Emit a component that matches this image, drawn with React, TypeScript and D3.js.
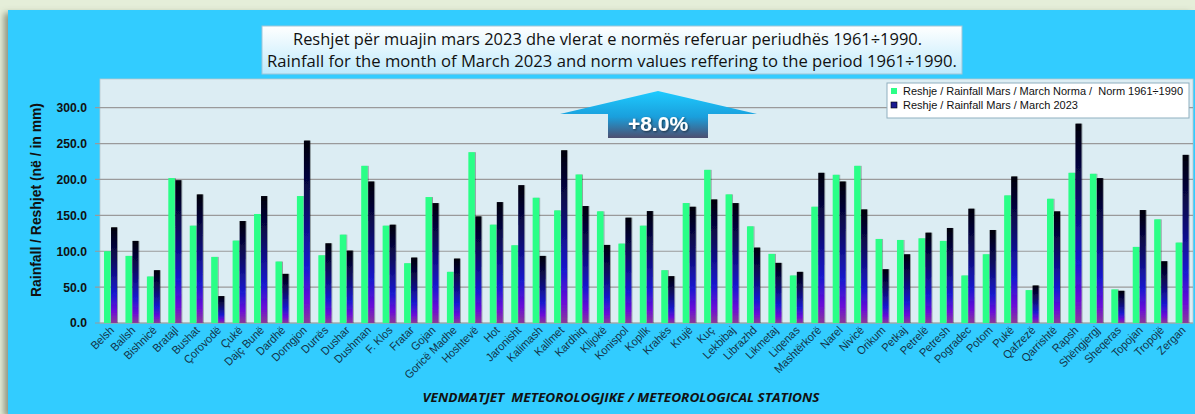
import React from "react";
import * as d3 from "d3";

const stations = ["Belsh","Ballsh","Bishnicë","Bratajl","Bushat","Çorovodë","Çukë","Dajç Bunë","Dardhë","Dorngjon","Durrës","Dushar","Dushman","F. Klos","Fratar","Gojan","Goricë Madhe","Hoshtevë","Hot","Jaronisht","Kalimash","Kallmet","Kardhiq","Klljokë","Konispol","Kopllk","Krahës","Krujë","Kuç","Lekbibaj","Librazhd","Likmetaj","Liqenas","Mashtërkorë","Narel","Nivicë","Orikum","Petkaj","Petrelë","Petresh","Pogradec","Potom","Pukë","Qafzezë","Qarrishtë","Rapsh","Shëngjergj","Sheqeras","Topojan","Tropojë","Zergan"];

const norm = [100,93.5,64.8,201.9,135.6,92.1,114.8,151.9,85.6,176.9,94.4,123.1,219,135.6,83.3,175.5,71.3,238,137,108.3,174.5,156.9,206.9,155.6,110.6,135.6,73.6,167.1,213.4,179.2,134.7,96.3,66.2,162,206.5,219,117.1,115.7,118,114.4,66.2,95.8,177.8,45.8,173.1,209.3,207.9,46.8,106,144.4,112];

const march2023 = [133.3,114.4,73.6,199,179.2,37.5,142.1,176.9,68.5,254.2,111.1,100.9,197.2,137,91.2,167.1,89.8,148.6,168.5,192.1,93.5,240.7,163,108.8,146.8,156,65.3,162,172.2,167.1,105.1,83.8,71.3,209.3,197.2,158.3,75,95.8,125.9,132.4,159.3,129.6,204.2,52.3,155.6,277.8,201.9,44.9,157.4,86.1,234.3];

const yTicks = [0,50,100,150,200,250,300];

const titleLines = [
  "Reshjet për muajin mars 2023 dhe vlerat e normës referuar periudhës 1961÷1990.",
  "Rainfall for the month of March 2023 and norm values reffering to the period 1961÷1990.",
];
const legendLabels = [
  "Reshje / Rainfall Mars / March Norma /  Norm 1961÷1990",
  "Reshje / Rainfall Mars / March 2023",
];
const changeLabel = "+8.0%";
const yTitle = "Rainfall / Reshjet (në / in mm)";
const xTitle = "VENDMATJET  METEOROLOGJIKE / METEOROLOGICAL STATIONS";

const W = 1195, H = 414;
const plot = { left: 100, right: 1193, top: 79, bottom: 323 };

export default function App() {
  const x = d3.scaleBand<string>().domain(stations).range([plot.left, plot.right]).padding(0);
  const y = d3.scaleLinear().domain([0, 300]).range([plot.bottom, 107.7]);
  const bw = 6.5;
  const sans = "'Liberation Sans', Arial, sans-serif";
  const titleFont = "'Open Sans', 'Noto Sans', sans-serif";

  const ax = 658;
  const arrowPath = d3.path();
  arrowPath.moveTo(ax, 91);
  arrowPath.lineTo(757, 114);
  arrowPath.lineTo(708, 114);
  arrowPath.lineTo(708, 138);
  arrowPath.lineTo(608, 138);
  arrowPath.lineTo(608, 114);
  arrowPath.lineTo(560, 114);
  arrowPath.closePath();

  const titleGeom = [
    { cx: 607.5, len: 629 },
    { cx: 612, len: 690 },
  ];
  const legendLens = [280, 175];

  return (
    <div style={{ position: "absolute", left: 0, top: 0 }}>
      <svg width={W} height={H} style={{ display: "block" }}>
        <defs>
          <linearGradient id="g2023" x1="0" y1="0" x2="0" y2="1">
            <stop offset="0" stopColor="#000008" />
            <stop offset="0.35" stopColor="#0a0a60" />
            <stop offset="0.7" stopColor="#1a1ad0" />
            <stop offset="0.88" stopColor="#6a0cd8" />
            <stop offset="1" stopColor="#8a3a9a" />
          </linearGradient>
          <linearGradient id="gTitle" x1="0" y1="0" x2="0" y2="1">
            <stop offset="0" stopColor="#ffffff" />
            <stop offset="1" stopColor="#bfeafc" />
          </linearGradient>
          <linearGradient id="gArrow" x1="0" y1="0" x2="0" y2="1">
            <stop offset="0" stopColor="#1ecbff" />
            <stop offset="0.55" stopColor="#1a9fdc" />
            <stop offset="1" stopColor="#4d4f70" />
          </linearGradient>
          <filter id="panelShadow" x="-5%" y="-5%" width="110%" height="110%">
            <feDropShadow dx="-4" dy="3" stdDeviation="3" floodColor="#6b6e5a" floodOpacity="0.7" />
          </filter>
          <filter id="txtShadow" x="-20%" y="-20%" width="140%" height="140%">
            <feDropShadow dx="1" dy="1" stdDeviation="1" floodColor="#000" floodOpacity="0.6" />
          </filter>
          <filter id="barShadow" x="-50%" y="-5%" width="200%" height="110%">
            <feDropShadow dx="1" dy="0" stdDeviation="0.6" floodColor="#000" floodOpacity="0.35" />
          </filter>
        </defs>

        <rect x={0} y={0} width={W} height={H} fill="#e5eed9" />
        <rect x={8} y={10} width={W - 8} height={H - 10} fill="#33ccff" filter="url(#panelShadow)" />

        {/* title */}
        <rect x={262} y={26} width={700} height={48} fill="url(#gTitle)" stroke="#9fc6d8" strokeWidth={1} />
        {titleLines.map((t, i) => (
          <text key={i} x={titleGeom[i].cx} y={45 + i * 22} textAnchor="middle" fontFamily={titleFont} fontSize={16}
            fill="#111" textLength={titleGeom[i].len} lengthAdjust="spacingAndGlyphs">
            {t}
          </text>
        ))}

        {/* plot area */}
        <rect x={plot.left} y={plot.top} width={plot.right - plot.left} height={plot.bottom - plot.top} fill="#dcedf3" stroke="#b8c8cc" strokeWidth={0.8} />
        {yTicks.map((t) => (
          <g key={t}>
            <line x1={95} x2={plot.right} y1={y(t)} y2={y(t)} stroke="#9a9a9a" strokeWidth={1.2} />
            <text x={87} y={y(t) + 4.5} textAnchor="end" fontFamily={sans} fontWeight="bold" fontSize={13.5} fill="#111"
              transform={`translate(${87 * 0.1},0) scale(0.9,1)`}>
              {t.toFixed(1)}
            </text>
          </g>
        ))}

        {/* bars */}
        {stations.map((s, i) => {
          const cx = (x(s) as number) + x.bandwidth() / 2;
          return (
            <g key={s}>
              <rect x={cx - bw - 0.2} y={y(norm[i])} width={bw} height={plot.bottom - y(norm[i])} fill="#2bff87" filter="url(#barShadow)" />
              <rect x={cx + 0.3} y={y(march2023[i])} width={bw - 0.5} height={plot.bottom - y(march2023[i])} fill="url(#g2023)" filter="url(#barShadow)" />
            </g>
          );
        })}

        {/* x labels */}
        {stations.map((s) => {
          const cx = (x(s) as number) + x.bandwidth() / 2;
          return (
            <text key={s} transform={`translate(${cx + 4},${331}) rotate(-45) scale(0.95,1)`} textAnchor="end" fontFamily={sans} fontSize={11.5} fill="#12344a">
              {s}
            </text>
          );
        })}

        {/* axis titles */}
        <text transform={`translate(41,${200}) rotate(-90)`} textAnchor="middle" fontFamily={sans} fontWeight="bold" fontSize={15}
          fill="#111" textLength={194} lengthAdjust="spacingAndGlyphs">
          {yTitle}
        </text>
        <text x={621} y={402} textAnchor="middle" fontFamily={titleFont} fontWeight="bold" fontStyle="italic" fontSize={13}
          fill="#111" textLength={397} lengthAdjust="spacingAndGlyphs" style={{ whiteSpace: "pre" }}>
          {xTitle}
        </text>

        {/* arrow */}
        <path d={arrowPath.toString()} fill="url(#gArrow)" />
        <text x={ax} y={131} textAnchor="middle" fontFamily={sans} fontWeight="bold" fontSize={21} fill="#fff" filter="url(#txtShadow)">
          {changeLabel}
        </text>

        {/* legend */}
        <rect x={887} y={83} width={302} height={35} fill="#ffffff" stroke="#8fb0c0" strokeWidth={1} />
        <rect x={891} y={88} width={6} height={6} fill="#2bff87" />
        <rect x={891} y={102} width={6} height={6} fill="#1a1a90" stroke="#000" strokeWidth={0.6} />
        {legendLabels.map((t, i) => (
          <text key={i} x={903} y={95 + i * 14} fontFamily={sans} fontSize={11.5} fill="#111"
            textLength={legendLens[i]} lengthAdjust="spacingAndGlyphs" style={{ whiteSpace: "pre" }}>
            {t}
          </text>
        ))}
      </svg>
    </div>
  );
}
